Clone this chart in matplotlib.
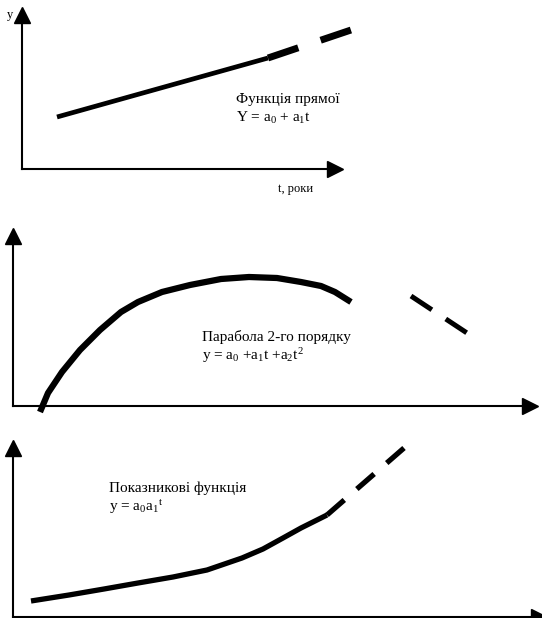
# Типи трендових функцій: пряма, парабола 2-го порядку, показникова

import matplotlib
matplotlib.use('Agg')
import matplotlib.pyplot as plt

W, H = 542, 618

# panel 1 - пряма (values in px-units from the axes origin)
line_t = [35, 246]
line_y = [52, 111]
line_fc_t = [246, 329]
line_fc_y = [111, 139]

# panel 2 - парабола
par_t = [27, 35, 49, 67, 87, 108, 125, 149, 177, 208, 236, 264, 288, 308, 322, 338]
par_y = [-6, 13, 34, 56, 76, 94, 104, 114, 121, 127, 129, 128, 124, 120, 114, 104]
par_fc_t = [398, 454]
par_fc_y = [110, 73]

# panel 3 - показникова
exp_t = [18, 56, 91, 125, 160, 194, 229, 250, 270, 288, 314]
exp_y = [16, 22, 28, 34, 40, 47, 59, 68, 79, 89, 102]
exp_fc_t = [314, 391]
exp_fc_y = [102, 169]

plt.rcParams['font.family'] = ['Liberation Serif', 'DejaVu Serif']
plt.rcParams['mathtext.fontset'] = 'custom'
plt.rcParams['mathtext.rm'] = 'Liberation Serif'
plt.rcParams['mathtext.it'] = 'Liberation Serif'
plt.rcParams['lines.scale_dashes'] = False


def add_panel(fig, left, bottom, right, top):
    # left/bottom/right/top in pixels, origin of image at top-left
    ax = fig.add_axes([left / W, 1 - bottom / H, (right - left) / W, (bottom - top) / H])
    ax.set_xlim(0, right - left)
    ax.set_ylim(0, bottom - top)
    for s in ['top', 'right']:
        ax.spines[s].set_visible(False)
    for s in ['left', 'bottom']:
        ax.spines[s].set_linewidth(1.5)
    ax.set_xticks([])
    ax.set_yticks([])
    ax.patch.set_visible(False)
    ax.plot(1, 0, '>k', ms=11, transform=ax.transAxes, clip_on=False)
    ax.plot(0, 1, '^k', ms=11, transform=ax.transAxes, clip_on=False)
    return ax


def main():
    fig = plt.figure(figsize=(W / 100, H / 100), dpi=100)

    # панель 1
    ax1 = add_panel(fig, 22, 169, 335, 15)
    ax1.plot(line_t, line_y, color='k', lw=3.4, solid_capstyle='butt', clip_on=False)
    ax1.plot(line_fc_t, line_fc_y, color='k', lw=5, dashes=(23, 17),
             dash_capstyle='butt', clip_on=False)
    ax1.text(214, 70, 'Функція прямої', fontsize=11, va='center')
    ax1.text(214, 51, 'Y = a$_0$ + a$_1$t', fontsize=11, va='center')
    ax1.text(256, -20, 't, роки', fontsize=9, va='center')
    ax1.text(-15, 154, 'y', fontsize=9, va='center')

    # панель 2
    ax2 = add_panel(fig, 13, 406, 530, 236)
    ax2.plot(par_t, par_y, color='k', lw=4.5, solid_capstyle='butt',
             solid_joinstyle='round', clip_on=False)
    ax2.plot(par_fc_t, par_fc_y, color='k', lw=3.6, dashes=(18, 12),
             dash_capstyle='butt', clip_on=False)
    ax2.text(189, 69, 'Парабола 2-го порядку', fontsize=11, va='center')
    ax2.text(189, 50, 'y = a$_0$ +a$_1$t +a$_2$t$^2$', fontsize=11, va='center')

    # панель 3
    ax3 = add_panel(fig, 13, 617, 539, 448)
    ax3.plot(exp_t, exp_y, color='k', lw=3.8, solid_capstyle='butt',
             solid_joinstyle='round', clip_on=False)
    ax3.plot(exp_fc_t, exp_fc_y, color='k', lw=3.8, dashes=(16.5, 12),
             dash_capstyle='butt', clip_on=False)
    ax3.text(96, 129, 'Показникові функція', fontsize=11, va='center')
    ax3.text(96, 110, 'y = a$_0$a$_1$$^t$', fontsize=11, va='center')

    fig.savefig('out.png', dpi=100)


if __name__ == '__main__':
    main()
